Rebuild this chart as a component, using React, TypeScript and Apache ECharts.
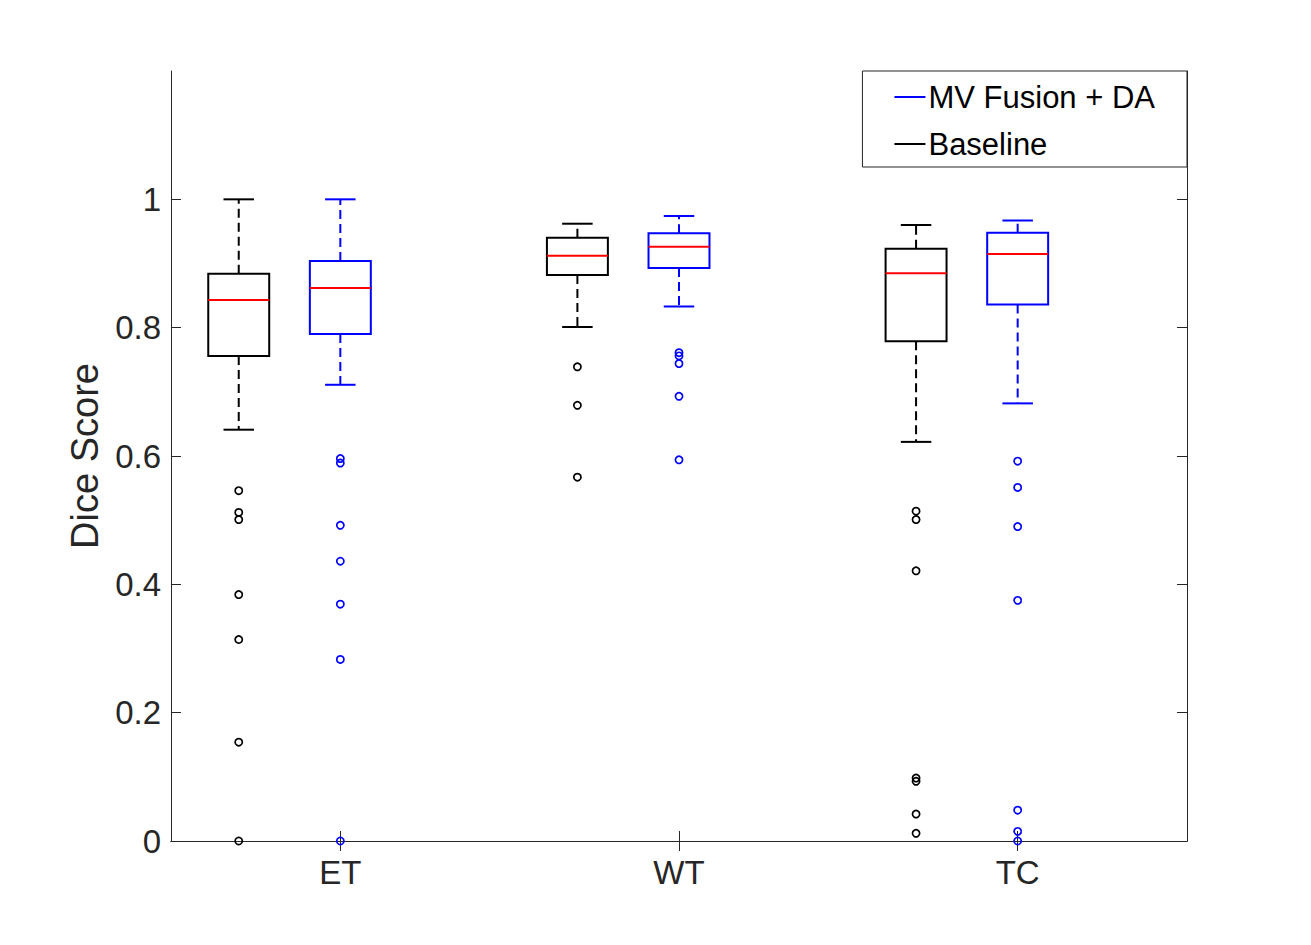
import React, { useEffect, useRef } from "react";
import * as echarts from "echarts";

// Categories along the x axis
const categories = ["ET", "WT", "TC"];

// Box statistics per category: [lower whisker, Q1, median, Q3, upper whisker]
const baselineStats = [
  [0.641, 0.756, 0.843, 0.884, 1.0],
  [0.801, 0.882, 0.912, 0.94, 0.962],
  [0.622, 0.779, 0.885, 0.923, 0.96],
];
const mvStats = [
  [0.711, 0.79, 0.862, 0.904, 1.0],
  [0.833, 0.893, 0.926, 0.947, 0.974],
  [0.682, 0.836, 0.915, 0.948, 0.967],
];

// Outliers per category
const baselineOutliers = [
  [0.546, 0.512, 0.501, 0.384, 0.314, 0.154, 0.0],
  [0.739, 0.679, 0.567],
  [0.514, 0.501, 0.421, 0.098, 0.093, 0.042, 0.012],
];
const mvOutliers = [
  [0.596, 0.589, 0.492, 0.436, 0.369, 0.283, 0.0],
  [0.761, 0.756, 0.744, 0.693, 0.594],
  [0.592, 0.551, 0.49, 0.375, 0.048, 0.015, 0.0],
];

// Y tick values
const yTicks = [0, 0.2, 0.4, 0.6, 0.8, 1];

const SERIES_MV = "MV Fusion + DA";
const SERIES_BASE = "Baseline";

const FONT = "'Liberation Sans', Arial, Helvetica, sans-serif";
const TEXT = "#262626";

function boxRenderer(color: string, offset: number) {
  return (params: any, api: any) => {
    const idx = api.value(0);
    const band = api.size([1, 0])[0];
    const x = api.coord([idx, api.value(3)])[0] + offset * band;
    const yLo = api.coord([idx, api.value(1)])[1];
    const yQ1 = api.coord([idx, api.value(2)])[1];
    const yMed = api.coord([idx, api.value(3)])[1];
    const yQ3 = api.coord([idx, api.value(4)])[1];
    const yHi = api.coord([idx, api.value(5)])[1];
    const hb = band * 0.09;
    const hc = band * 0.045;
    const solid = { stroke: color, lineWidth: 2, fill: "none" };
    const dashed = { stroke: color, lineWidth: 2, lineDash: [9, 5], fill: "none" };
    return {
      type: "group",
      children: [
        { type: "line", shape: { x1: x, y1: yQ3, x2: x, y2: yHi }, style: dashed },
        { type: "line", shape: { x1: x, y1: yQ1, x2: x, y2: yLo }, style: dashed },
        { type: "line", shape: { x1: x - hc, y1: yHi, x2: x + hc, y2: yHi }, style: solid },
        { type: "line", shape: { x1: x - hc, y1: yLo, x2: x + hc, y2: yLo }, style: solid },
        { type: "rect", shape: { x: x - hb, y: yQ3, width: 2 * hb, height: yQ1 - yQ3 }, style: solid },
        { type: "line", shape: { x1: x - hb, y1: yMed, x2: x + hb, y2: yMed }, style: { stroke: "#ff0000", lineWidth: 2 } },
      ],
    };
  };
}

function outlierRenderer(color: string, offset: number) {
  return (params: any, api: any) => {
    const idx = api.value(0);
    const band = api.size([1, 0])[0];
    const p = api.coord([idx, api.value(1)]);
    return {
      type: "circle",
      shape: { cx: p[0] + offset * band, cy: p[1], r: 3.6 },
      style: { fill: "none", stroke: color, lineWidth: 1.7 },
    };
  };
}

export default function App() {
  const ref = useRef<HTMLDivElement>(null);
  useEffect(() => {
    if (!ref.current) return;
    const chart = echarts.init(ref.current, null, { renderer: "svg" });

    const baseBoxData = baselineStats.map((s, i) => [i, ...s]);
    const mvBoxData = mvStats.map((s, i) => [i, ...s]);
    const baseOutData: number[][] = [];
    baselineOutliers.forEach((arr, i) => arr.forEach((v) => baseOutData.push([i, v])));
    const mvOutData: number[][] = [];
    mvOutliers.forEach((arr, i) => arr.forEach((v) => mvOutData.push([i, v])));

    const axisLine = { show: true, lineStyle: { color: TEXT, width: 1 } };
    const tickStyle = { color: TEXT, width: 1 };

    chart.setOption({
      animation: false,
      backgroundColor: "#ffffff",
      textStyle: { fontFamily: FONT },
      grid: { left: 171, top: 71, right: 124, bottom: 104, containLabel: false },
      legend: {
        orient: "vertical",
        right: 124,
        top: 71,
        backgroundColor: "#ffffff",
        borderColor: TEXT,
        borderWidth: 1,
        borderRadius: 0,
        padding: [8, 32, 5, 32],
        itemGap: 11,
        itemWidth: 31,
        itemHeight: 2,
        selectedMode: false,
        textStyle: { fontSize: 31, color: "#000000", fontFamily: FONT, padding: [0, 0, 0, -2], lineHeight: 36 },
        data: [
          { name: SERIES_MV, icon: "rect", itemStyle: { color: "#0000ff" } },
          { name: SERIES_BASE, icon: "rect", itemStyle: { color: "#000000" } },
        ],
      },
      xAxis: [
        {
          type: "category",
          data: categories,
          position: "bottom",
          boundaryGap: true,
          axisLine,
          axisTick: { show: true, inside: true, length: 10, alignWithLabel: true, lineStyle: tickStyle },
          axisLabel: { color: TEXT, fontSize: 33, margin: 15, fontFamily: FONT },
          splitLine: { show: false },
        },
        {
          type: "category",
          data: categories,
          position: "top",
          boundaryGap: true,
          axisLine,
          axisTick: { show: true, inside: true, length: 10, alignWithLabel: true, lineStyle: tickStyle },
          axisLabel: { show: false },
          splitLine: { show: false },
        },
      ],
      yAxis: [
        {
          type: "value",
          min: 0,
          max: 1.2,
          position: "left",
          name: "Dice Score",
          nameLocation: "middle",
          nameRotate: 90,
          nameGap: 64,
          nameTextStyle: { color: TEXT, fontSize: 38, fontFamily: FONT },
          axisLine,
          axisTick: { show: true, inside: true, length: 10, lineStyle: tickStyle, customValues: yTicks },
          axisLabel: { color: TEXT, fontSize: 33, margin: 10, fontFamily: FONT, customValues: yTicks },
          splitLine: { show: false },
        },
        {
          type: "value",
          min: 0,
          max: 1.2,
          position: "right",
          axisLine,
          axisTick: { show: true, inside: true, length: 10, lineStyle: tickStyle, customValues: yTicks },
          axisLabel: { show: false, customValues: yTicks },
          splitLine: { show: false },
        },
      ],
      series: [
        {
          type: "custom",
          name: SERIES_BASE,
          xAxisIndex: 0,
          yAxisIndex: 0,
          renderItem: boxRenderer("#000000", -0.3),
          encode: { x: 0, y: [1, 2, 3, 4, 5] },
          data: baseBoxData,
          itemStyle: { color: "#000000" },
        },
        {
          type: "custom",
          name: SERIES_MV,
          xAxisIndex: 0,
          yAxisIndex: 0,
          renderItem: boxRenderer("#0000ff", 0),
          encode: { x: 0, y: [1, 2, 3, 4, 5] },
          data: mvBoxData,
          itemStyle: { color: "#0000ff" },
        },
        {
          type: "custom",
          name: SERIES_BASE,
          xAxisIndex: 0,
          yAxisIndex: 0,
          renderItem: outlierRenderer("#000000", -0.3),
          encode: { x: 0, y: 1 },
          data: baseOutData,
          itemStyle: { color: "#000000" },
          clip: false,
        },
        {
          type: "custom",
          name: SERIES_MV,
          xAxisIndex: 0,
          yAxisIndex: 0,
          renderItem: outlierRenderer("#0000ff", 0),
          encode: { x: 0, y: 1 },
          data: mvOutData,
          itemStyle: { color: "#0000ff" },
          clip: false,
        },
      ],
    });
    return () => chart.dispose();
  }, []);

  return (
    <div
      ref={ref}
      style={{ position: "fixed", left: 0, top: 0, width: 1311, height: 945, background: "#ffffff" }}
    />
  );
}
